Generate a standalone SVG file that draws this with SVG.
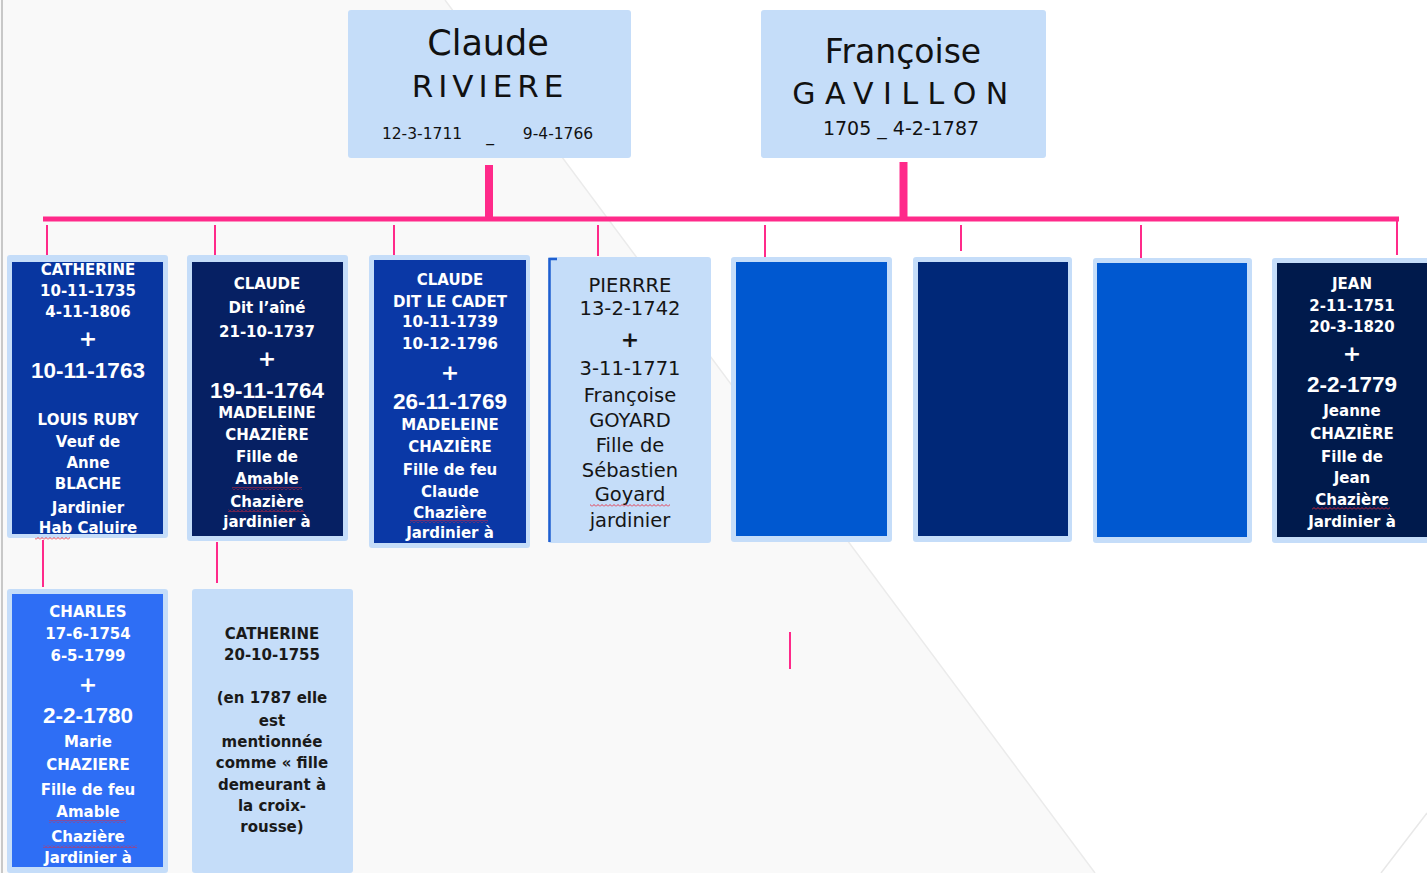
<svg xmlns="http://www.w3.org/2000/svg" width="1427" height="873" viewBox="0 0 1427 873">
<defs>
<style>
.lb{fill:#c5ddf9}
.t{font-family:"DejaVu Sans","Liberation Sans",sans-serif;text-anchor:middle}
.w{fill:#ffffff;font-weight:bold;font-size:15px}
.bd{font-family:"Liberation Sans","DejaVu Sans",sans-serif;font-size:22.5px}
.k{fill:#151515;font-size:19.5px}
.kb{fill:#1a1a1a;font-weight:bold;font-size:15px}
.pl{font-size:22px;font-weight:bold}
.cn{stroke:#ff2a8a;fill:none}
.thin{stroke-width:2}
.thick{stroke-width:8}
</style>
<pattern id="sq" width="4" height="3" patternUnits="userSpaceOnUse"><path d="M0,2.5 L2,0.5 L4,2.5" stroke="#e8283a" stroke-width="0.9" fill="none"/></pattern>
<clipPath id="c1"><rect x="7" y="255" width="161" height="283"/></clipPath>
<clipPath id="c2"><rect x="187" y="255" width="161" height="286"/></clipPath>
<clipPath id="c3"><rect x="369" y="255" width="161" height="293"/></clipPath>
<clipPath id="c8"><rect x="1272" y="258" width="160" height="285"/></clipPath>
<clipPath id="c9"><rect x="7" y="589" width="161" height="283"/></clipPath>
</defs>

<!-- background -->
<rect x="0" y="0" width="1427" height="873" fill="#ffffff"/>
<polygon points="0,0 445,0 1095,873 0,873" fill="#f9f9f9"/>
<line x1="445" y1="0" x2="1095" y2="873" stroke="#ebebeb" stroke-width="1.5"/>
<line x1="1427" y1="813" x2="1381" y2="873" stroke="#e8e8e8" stroke-width="1.5"/>
<line x1="2" y1="0" x2="2" y2="873" stroke="#c8c8c8" stroke-width="2"/>

<!-- connectors -->
<g id="connectors">
<line class="cn thick" x1="489" y1="165" x2="489" y2="220"/>
<line class="cn thick" x1="903.5" y1="162" x2="903.5" y2="220"/>
<line class="cn" stroke-width="5" x1="43" y1="219" x2="1399" y2="219"/>
<line class="cn thin" x1="47" y1="225" x2="47" y2="255"/>
<line class="cn thin" x1="215" y1="225" x2="215" y2="255"/>
<line class="cn thin" x1="394" y1="225" x2="394" y2="255"/>
<line class="cn thin" x1="598" y1="225" x2="598" y2="256"/>
<line class="cn thin" x1="765" y1="225" x2="765" y2="257"/>
<line class="cn thin" x1="961" y1="225" x2="961" y2="251"/>
<line class="cn thin" x1="1141" y1="225" x2="1141" y2="258"/>
<line class="cn thin" x1="1397" y1="219" x2="1397" y2="255"/>
<line class="cn thin" x1="43" y1="540" x2="43" y2="587"/>
<line class="cn thin" x1="217" y1="542" x2="217" y2="583"/>
<line class="cn thin" x1="790" y1="632" x2="790" y2="669"/>
</g>

<!-- parents -->
<g id="n-claude-riviere">
<rect class="lb" x="348" y="10" width="283" height="148" rx="3"/>
<text class="t" x="488" y="55" font-size="35" fill="#111">Claude</text>
<text class="t" x="490" y="97" font-size="31" fill="#111" letter-spacing="5">RIVIERE</text>
<text class="t" x="422" y="139" font-size="15.5" fill="#111">12-3-1711</text>
<text class="t" x="490" y="141" font-size="15.5" fill="#111">_</text>
<text class="t" x="558" y="139" font-size="15.5" fill="#111">9-4-1766</text>
</g>

<g id="n-francoise-gavillon">
<rect class="lb" x="761" y="10" width="285" height="148" rx="3"/>
<text class="t" x="903" y="63" font-size="33" fill="#111">Françoise</text>
<text class="t" x="905" y="104" font-size="30" fill="#111" letter-spacing="9.5">GAVILLON</text>
<text class="t" x="901" y="135" font-size="19" fill="#111">1705 _  4-2-1787</text>
</g>

<!-- children row 1 -->
<g id="n-catherine-1735">
<rect class="lb" x="7" y="255" width="161" height="283" rx="3"/>
<rect x="12" y="262" width="151" height="272" fill="#0836a0"/>
<g clip-path="url(#c1)">
<text class="t w" x="88" y="275" font-size="14.7">CATHERINE</text>
<text class="t w" x="88" y="296" font-size="14.7">10-11-1735</text>
<text class="t w" x="88" y="317" font-size="14.7">4-11-1806</text>
<text class="t w pl" x="88" y="346">+</text>
<text class="t w bd" x="88" y="378">10-11-1763</text>
<text class="t w" x="88" y="425" font-size="14.2">LOUIS RUBY</text>
<text class="t w" x="88" y="447">Veuf de</text>
<text class="t w" x="88" y="468" font-size="15.5">Anne</text>
<text class="t w" x="88" y="489">BLACHE</text>
<text class="t w" x="88" y="513" font-size="15.5">Jardinier</text>
<text class="t w" x="88" y="533" font-size="15.5">Hab Caluire</text>
</g>
<rect x="35" y="537" width="35" height="3" fill="url(#sq)"/>
</g>

<g id="n-claude-aine">
<rect class="lb" x="187" y="255" width="161" height="286" rx="3"/>
<rect x="192" y="262" width="151" height="274" fill="#062063"/>
<g clip-path="url(#c2)">
<text class="t w" x="267" y="289" font-size="17">CLAUDE</text>
<text class="t w" x="267" y="313" font-size="16.5">Dit l’aîné</text>
<text class="t w" x="267" y="337" font-size="16.8">21-10-1737</text>
<text class="t w pl" x="267" y="366">+</text>
<text class="t w bd" x="267" y="398">19-11-1764</text>
<text class="t w" x="267" y="418" font-size="14.8">MADELEINE</text>
<text class="t w" x="267" y="440" font-size="14.6">CHAZIÈRE</text>
<text class="t w" x="267" y="462">Fille de</text>
<text class="t w" x="267" y="484" font-size="16">Amable</text>
<text class="t w" x="267" y="507" font-size="15.5">Chazière</text>
<text class="t w" x="267" y="527">jardinier à</text>
</g>
<rect x="232" y="487" width="70" height="3" fill="url(#sq)"/>
<rect x="228" y="509" width="76" height="3" fill="url(#sq)"/>
</g>

<g id="n-claude-cadet">
<rect class="lb" x="369" y="255" width="161" height="293" rx="3"/>
<rect x="374" y="260" width="152" height="283" fill="#0a38a6"/>
<g clip-path="url(#c3)">
<text class="t w" x="450" y="285" font-size="15.3">CLAUDE</text>
<text class="t w" x="450" y="307" font-size="14.2">DIT LE CADET</text>
<text class="t w" x="450" y="327" font-size="14.7">10-11-1739</text>
<text class="t w" x="450" y="349" font-size="14.7">10-12-1796</text>
<text class="t w pl" x="450" y="380">+</text>
<text class="t w bd" x="450" y="409">26-11-1769</text>
<text class="t w" x="450" y="430" font-size="14.8">MADELEINE</text>
<text class="t w" x="450" y="452" font-size="14.6">CHAZIÈRE</text>
<text class="t w" x="450" y="475">Fille de feu</text>
<text class="t w" x="450" y="497" font-size="16">Claude</text>
<text class="t w" x="450" y="518" font-size="15.7">Chazière</text>
<text class="t w" x="450" y="538" font-size="15.7">Jardinier à</text>
</g>
<rect x="410" y="520" width="78" height="3" fill="url(#sq)"/>
</g>

<g id="n-pierre">
<rect class="lb" x="548" y="257" width="163" height="286" rx="3"/>
<path d="M549.5,542 L549.5,259 L557,259" stroke="#1f5fd0" stroke-width="2.5" fill="none"/>
<text class="t k" x="630" y="292" font-size="18.5">PIERRRE</text>
<text class="t k" x="630" y="315" font-size="19">13-2-1742</text>
<text class="t k pl" x="630" y="347">+</text>
<text class="t k" x="630" y="375">3-11-1771</text>
<text class="t k" x="630" y="402">Françoise</text>
<text class="t k" x="630" y="427" font-size="21">GOYARD</text>
<text class="t k" x="630" y="452">Fille de</text>
<text class="t k" x="630" y="477">Sébastien</text>
<text class="t k" x="630" y="501">Goyard</text>
<text class="t k" x="630" y="527">jardinier</text>
<rect x="590" y="504" width="80" height="3" fill="url(#sq)"/>
</g>

<g id="n-child-5">
<rect class="lb" x="731" y="257" width="161" height="285" rx="3"/>
<rect x="736" y="262" width="151" height="274" fill="#0058d0"/>
</g>

<g id="n-child-6">
<rect class="lb" x="913" y="257" width="159" height="285" rx="3"/>
<rect x="918" y="262" width="150" height="274" fill="#002878"/>
</g>

<g id="n-child-7">
<rect class="lb" x="1093" y="258" width="159" height="285" rx="3"/>
<rect x="1097" y="263" width="150" height="274" fill="#0058d0"/>
</g>

<g id="n-jean">
<rect class="lb" x="1272" y="258" width="170" height="285" rx="3"/>
<rect x="1277" y="263" width="160" height="274" fill="#001a4c"/>
<g clip-path="url(#c8)">
<text class="t w" x="1352" y="289" font-size="15.8">JEAN</text>
<text class="t w" x="1352" y="311" font-size="14.6">2-11-1751</text>
<text class="t w" x="1352" y="332" font-size="14.8">20-3-1820</text>
<text class="t w pl" x="1352" y="361">+</text>
<text class="t w bd" x="1352" y="392">2-2-1779</text>
<text class="t w" x="1352" y="416" font-size="18">Jeanne</text>
<text class="t w" x="1352" y="439" font-size="16.3">CHAZIÈRE</text>
<text class="t w" x="1352" y="462" font-size="15.2">Fille de</text>
<text class="t w" x="1352" y="483" font-size="17">Jean</text>
<text class="t w" x="1352" y="505" font-size="15.9">Chazière</text>
<text class="t w" x="1352" y="527" font-size="15.2">Jardinier à</text>
</g>
<rect x="1312" y="507" width="78" height="3" fill="url(#sq)"/>
</g>

<!-- children row 2 -->
<g id="n-charles">
<rect class="lb" x="7" y="589" width="161" height="284" rx="3"/>
<rect x="12" y="594" width="151" height="273" fill="#2e6ef5"/>
<g clip-path="url(#c9)">
<text class="t w" x="88" y="617" font-size="14.8">CHARLES</text>
<text class="t w" x="88" y="639" font-size="14.8">17-6-1754</text>
<text class="t w" x="88" y="661" font-size="16">6-5-1799</text>
<text class="t w pl" x="88" y="692">+</text>
<text class="t w bd" x="88" y="723" font-size="23">2-2-1780</text>
<text class="t w" x="88" y="747" font-size="17">Marie</text>
<text class="t w" x="88" y="770" font-size="16.4">CHAZIERE</text>
<text class="t w" x="88" y="795" font-size="16.5">Fille de feu</text>
<text class="t w" x="88" y="817" font-size="17.5">Amable</text>
<text class="t w" x="88" y="842" font-size="17.5">Chazière</text>
<text class="t w" x="88" y="863" font-size="15.6">Jardinier à</text>
</g>
<rect x="49" y="820" width="77" height="3" fill="url(#sq)"/>
<rect x="43" y="845" width="94" height="3" fill="url(#sq)"/>
</g>

<g id="n-catherine-1755">
<rect class="lb" x="192" y="589" width="161" height="284" rx="3"/>
<text class="t kb" x="272" y="639" font-size="14.6">CATHERINE</text>
<text class="t kb" x="272" y="660">20-10-1755</text>
<text class="t kb" x="272" y="703" font-size="15.3">(en 1787 elle</text>
<text class="t kb" x="272" y="726" font-size="15.5">est</text>
<text class="t kb" x="272" y="747" font-size="16">mentionnée</text>
<text class="t kb" x="272" y="768" font-size="15.4">comme « fille</text>
<text class="t kb" x="272" y="790" font-size="15.5">demeurant à</text>
<text class="t kb" x="272" y="811" font-size="15.5">la croix-</text>
<text class="t kb" x="272" y="832" font-size="15.5">rousse)</text>
</g>
</svg>
